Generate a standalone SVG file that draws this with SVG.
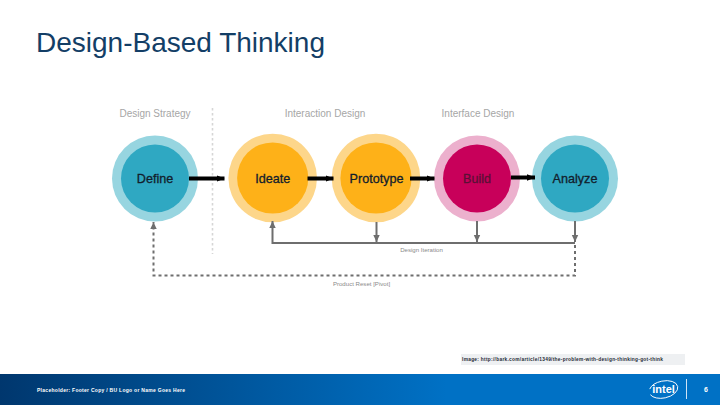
<svg xmlns="http://www.w3.org/2000/svg" width="720" height="405" viewBox="0 0 720 405">
<style>
text{font-family:"Liberation Sans",Arial,sans-serif}
.hdr{font-size:10px;fill:#a6a6a6;text-anchor:middle}
.lbl{font-size:12.6px;fill:#12202c;text-anchor:middle;stroke:#12202c;stroke-width:.3}
.sm{font-size:6.1px;fill:#8a8a8a;text-anchor:middle}
.foot{font-size:5px;font-weight:bold;fill:#fff}
.flow{fill:none;stroke:#000;stroke-width:4}
.back{fill:none;stroke:#6e6e6e;stroke-width:2}
.dash{stroke-dasharray:3 3}
</style>
<defs>
<linearGradient id="fg" x1="0" x2="1" y1="0" y2="0"><stop offset="0" stop-color="#00376e"/><stop offset=".62" stop-color="#0071c5"/><stop offset="1" stop-color="#0071c5"/></linearGradient>
<marker id="ah" markerUnits="userSpaceOnUse" markerWidth="8" markerHeight="8" refX="8" refY="4" orient="auto"><path d="M0 .8 8 4 0 7.200z" fill="#000"/></marker>
<marker id="ag" markerUnits="userSpaceOnUse" markerWidth="7" markerHeight="8" refX="7" refY="4" orient="auto"><path d="M0 .8 7 4 0 7.200z" fill="#6e6e6e"/></marker>
</defs>
<rect width="720" height="405" fill="#fff"/>
<text id="title" x="36" y="52" font-size="28" fill="#133e66">Design-Based Thinking</text>
<g id="headers">
<text class="hdr" x="155" y="117">Design Strategy</text>
<text class="hdr" x="325" y="117">Interaction Design</text>
<text class="hdr" x="478" y="117">Interface Design</text>
</g>
<path id="divider" d="M212.500 108V254" fill="none" stroke="#d6d6d6" stroke-width="1.600" stroke-dasharray="2.500 2.500"/>
<g id="define"><circle cx="155" cy="178.500" r="43" fill="#97d5e0"/><circle cx="155" cy="178.500" r="34" fill="#2fa8c2"/><text class="lbl" x="155" y="182.500">Define</text></g>
<g id="ideate"><circle cx="272.700" cy="178" r="44.300" fill="#fdd68a"/><circle cx="272.700" cy="178" r="35.600" fill="#feb118"/><text class="lbl" x="272.700" y="182.500">Ideate</text></g>
<g id="prototype"><circle cx="376" cy="178" r="44.300" fill="#fdd68a"/><circle cx="376" cy="178" r="35.600" fill="#feb118"/><text class="lbl" x="376.500" y="182.500">Prototype</text></g>
<g id="build"><circle cx="477" cy="178.500" r="43" fill="#ecb0cd"/><circle cx="477" cy="178.500" r="34" fill="#c8005a"/><text class="lbl" x="477" y="182.500" style="fill:#5a1036;stroke:#5a1036">Build</text></g>
<g id="analyze"><circle cx="575" cy="178.500" r="43" fill="#97d5e0"/><circle cx="575" cy="178.500" r="34" fill="#2fa8c2"/><text class="lbl" x="575" y="182.500">Analyze</text></g>
<g id="connectors">
<path class="flow" d="M189 178.500H224.500" marker-end="url(#ah)"/>
<path class="flow" d="M307.500 178.500H333.500" marker-end="url(#ah)"/>
<path class="flow" d="M410 178.500H434.500" marker-end="url(#ah)"/>
<path class="flow" d="M511 177.500H535" marker-end="url(#ah)"/>
<path class="back" d="M575 243H272.500V221" marker-end="url(#ag)"/>
<path class="back" d="M376.500 222V242" marker-end="url(#ag)"/>
<path class="back" d="M477 221V242" marker-end="url(#ag)"/>
<path class="back" d="M575 221V242" marker-end="url(#ag)"/>
<path class="back dash" d="M575 245V275.500H153.500V222" marker-end="url(#ag)"/>
</g>
<g id="notes">
<text class="sm" x="421.500" y="252">Design Iteration</text>
<text class="sm" x="361.500" y="285.500">Product Reset [Pivot]</text>
</g>
<g id="caption"><rect x="461" y="354" width="224" height="11" fill="#eef0f2"/>
<text x="462" y="360.500" font-size="4.800" font-weight="bold" fill="#1f2a36" textLength="201" lengthAdjust="spacing">Image: http://bark.com/article/1349/the-problem-with-design-thinking-got-think</text></g>
<g id="footer"><rect y="374" width="720" height="31" fill="url(#fg)"/>
<text class="foot" x="37" y="392" textLength="148" lengthAdjust="spacing">Placeholder: Footer Copy / BU Logo or Name Goes Here</text>
<path d="M686.500 379V399" stroke="#cfe3f5" stroke-width="1"/>
<text x="706" y="392" font-size="7" font-weight="bold" fill="#fff" text-anchor="middle">6</text></g>
<g id="intel-logo">
<ellipse cx="663.500" cy="389.500" rx="14.500" ry="8.500" fill="none" stroke="#fff" stroke-width=".9" stroke-dasharray="34 6" transform="rotate(-12 663.500 389.500)"/>
<text x="663.500" y="393" font-size="11" font-weight="bold" fill="#fff" text-anchor="middle">intel</text></g>
</svg>
